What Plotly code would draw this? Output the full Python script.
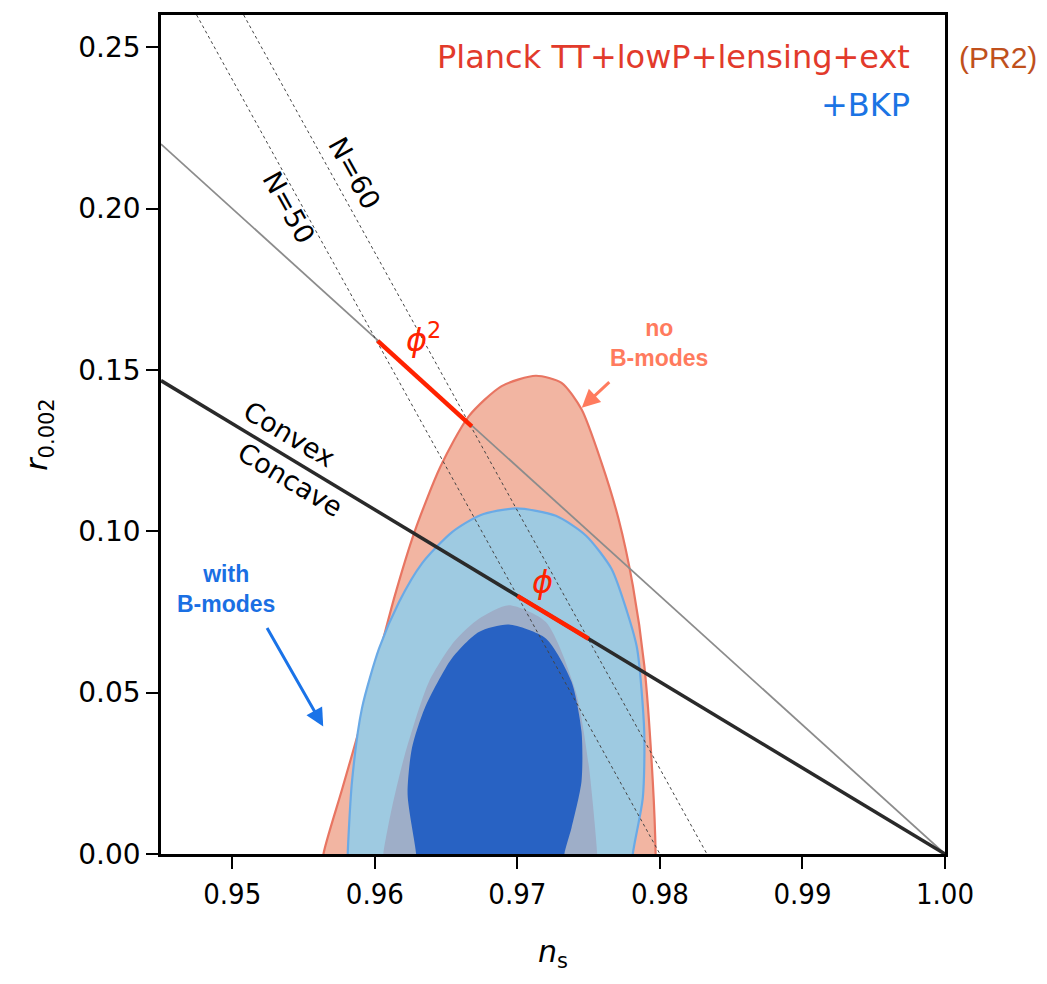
import plotly.graph_objects as go

# ---- contour outlines (n_s, r) ----
red95_ns = [0.9564, 0.9564, 0.9577, 0.9590, 0.9602, 0.9614, 0.9628, 0.9646, 0.9666, 0.9689, 0.9713,
            0.9731, 0.9745, 0.9759, 0.9771, 0.9781, 0.9789, 0.9795, 0.9797, 0.9797]
red95_r = [-0.004, 0.0, 0.0200, 0.0400, 0.0600, 0.0800, 0.1000, 0.1200, 0.1357, 0.1450, 0.1482,
           0.1460, 0.1378, 0.1213, 0.1038, 0.0832, 0.0586, 0.0225, 0.0, -0.004]

blue95_ns = [0.9581, 0.9581, 0.9584, 0.9591, 0.9603, 0.9617, 0.9633, 0.9654, 0.9674, 0.9699,
             0.9727, 0.9748, 0.9766, 0.9777, 0.9784, 0.9789, 0.9788, 0.9781, 0.9781]
blue95_r = [-0.004, 0.0, 0.0225, 0.0452, 0.0637, 0.0781, 0.0900, 0.0997, 0.1050, 0.1071,
            0.1048, 0.0987, 0.0884, 0.0750, 0.0637, 0.0380, 0.0174, 0.0, -0.004]

red68_ns = [0.9606, 0.9606, 0.9612, 0.9621, 0.9638, 0.9656, 0.9673, 0.9694, 0.9720, 0.9741, 0.9750, 0.9756, 0.9756]
red68_r = [-0.004, 0.0, 0.0143, 0.0307, 0.0534, 0.0660, 0.0729, 0.0771, 0.0719, 0.0503, 0.0277, 0.0, -0.004]

blue68_ns = [0.9629, 0.9629, 0.9623, 0.9626, 0.9635, 0.9654, 0.9673, 0.9694, 0.9720, 0.9738,
             0.9745, 0.9745, 0.9738, 0.9733, 0.9733]
blue68_r = [-0.004, 0.0, 0.0184, 0.0328, 0.0452, 0.0606, 0.0688, 0.0711, 0.0668, 0.0534,
            0.0380, 0.0225, 0.0081, 0.0, -0.004]

# ---- theory lines ----
convex_ns = [0.945, 1.0]
convex_r = [0.1467, 0.0]
phi2_ns = [0.945, 1.0]
phi2_r = [0.22, 0.0]
n50_ns = [0.9475, 0.9800]
n50_r = [0.26, 0.0]
n60_ns = [0.9508, 0.9833]
n60_r = [0.26, 0.0]
seg_phi2_ns = [0.9602, 0.9668]
seg_phi2_r = [0.1590, 0.1325]
seg_phi_ns = [0.9700, 0.9750]
seg_phi_r = [0.0800, 0.0667]

x_ticks = [0.95, 0.96, 0.97, 0.98, 0.99, 1.00]
y_ticks = [0.00, 0.05, 0.10, 0.15, 0.20, 0.25]

fig = go.Figure()

def region(xs, ys, fill, line_color=None, lw=0):
    fig.add_trace(go.Scatter(
        x=xs, y=ys, mode="lines", fill="toself", fillcolor=fill,
        line=dict(color=line_color or fill, width=lw, shape="spline", smoothing=0.7),
        hoverinfo="skip", showlegend=False))

region(red95_ns, red95_r, "#f2b5a2", "#e87562", 2.2)
region(blue95_ns, blue95_r, "#9ecae1", "#6aaae6", 2.2)
region(red68_ns, red68_r, "#9eaec8")
region(blue68_ns, blue68_r, "#2862c3")

def line(xs, ys, color, width, dash="solid"):
    fig.add_trace(go.Scatter(x=xs, y=ys, mode="lines",
                             line=dict(color=color, width=width, dash=dash),
                             hoverinfo="skip", showlegend=False))

line(phi2_ns, phi2_r, "#8c8c8c", 1.8)
line(n50_ns, n50_r, "#444444", 1, "dot")
line(n60_ns, n60_r, "#444444", 1, "dot")
line(convex_ns, convex_r, "#2a2a2a", 3.5)
line(seg_phi2_ns, seg_phi2_r, "#ff2200", 4.5)
line(seg_phi_ns, seg_phi_r, "#ff2200", 4.5)

ann = []
def text(x, y, s, size, color="black", angle=0, family="DejaVu Sans", xanchor="center", **kw):
    ann.append(dict(x=x, y=y, xref="x", yref="y", text=s, showarrow=False, textangle=angle,
                    font=dict(family=family, size=size, color=color), xanchor=xanchor, **kw))

text(0.99771, 0.2469, "Planck TT+lowP+lensing+ext", 32, "#e23a2b", xanchor="right", yanchor="middle")
text(0.99771, 0.2322, "+BKP", 32, "#1b74e4", xanchor="right", yanchor="middle")
ann.append(dict(x=1.0153, y=0.2469, xref="paper", yref="y", text="(PR2)", showarrow=False,
                xanchor="left", yanchor="middle",
                font=dict(family="Liberation Sans", size=30, color="#c0501c")))
text(0.95397, 0.2003, "N=50", 27, angle=61)
text(0.95854, 0.2111, "N=60", 27, angle=61)
text(0.95404, 0.1300, "Convex", 27, angle=31)
text(0.95404, 0.1160, "Concave", 27, angle=31)
text(0.96341, 0.1599, "<i>ϕ</i><sup>2</sup>", 32, "#ff2200")
text(0.97173, 0.0843, "<i>ϕ</i>", 32, "#ff2200")
text(0.97993, 0.1583, "<b>no<br>B-modes</b>", 23, "#ff7b5e", family="Liberation Sans")
text(0.94957, 0.0821, "<b>with<br>B-modes</b>", 23, "#1a6fe3", family="Liberation Sans")

ann.append(dict(x=0.97452, y=0.1383, xref="x", yref="y", ax=29, ay=-27, axref="pixel", ayref="pixel",
                text="", showarrow=True, arrowhead=2, arrowsize=1.2, arrowwidth=3, arrowcolor="#ff7b5e"))
ann.append(dict(x=0.95638, y=0.0395, xref="x", yref="y", ax=-57, ay=-100, axref="pixel", ayref="pixel",
                text="", showarrow=True, arrowhead=2, arrowsize=1.2, arrowwidth=3, arrowcolor="#1a73e8"))

fig.update_layout(
    width=1047, height=984,
    margin=dict(l=153, r=110, t=4, b=138),
    plot_bgcolor="white", paper_bgcolor="white",
    annotations=ann,
    xaxis=dict(range=[0.945, 1.0], tickvals=x_ticks, tickformat=".2f",
               ticks="outside", ticklen=12, tickwidth=2, tickcolor="black",
               showline=True, linecolor="black", linewidth=2.5, mirror=True,
               showgrid=False, zeroline=False,
               tickfont=dict(family="DejaVu Sans Condensed, DejaVu Sans", size=29, color="black"),
               title=dict(text="<i>n</i><sub>s</sub>", font=dict(family="DejaVu Sans", size=30, color="black"), standoff=32)),
    yaxis=dict(range=[0.0, 0.26], tickvals=y_ticks, tickformat=".2f",
               ticks="outside", ticklen=12, tickwidth=2, tickcolor="black",
               showline=True, linecolor="black", linewidth=2.5, mirror=True,
               showgrid=False, zeroline=False,
               tickfont=dict(family="DejaVu Sans", size=28, color="black"),
               title=dict(text="<i>r</i><sub>0.002</sub>", font=dict(family="DejaVu Sans", size=30, color="black"), standoff=22)),
)

fig.write_html("out.html")
